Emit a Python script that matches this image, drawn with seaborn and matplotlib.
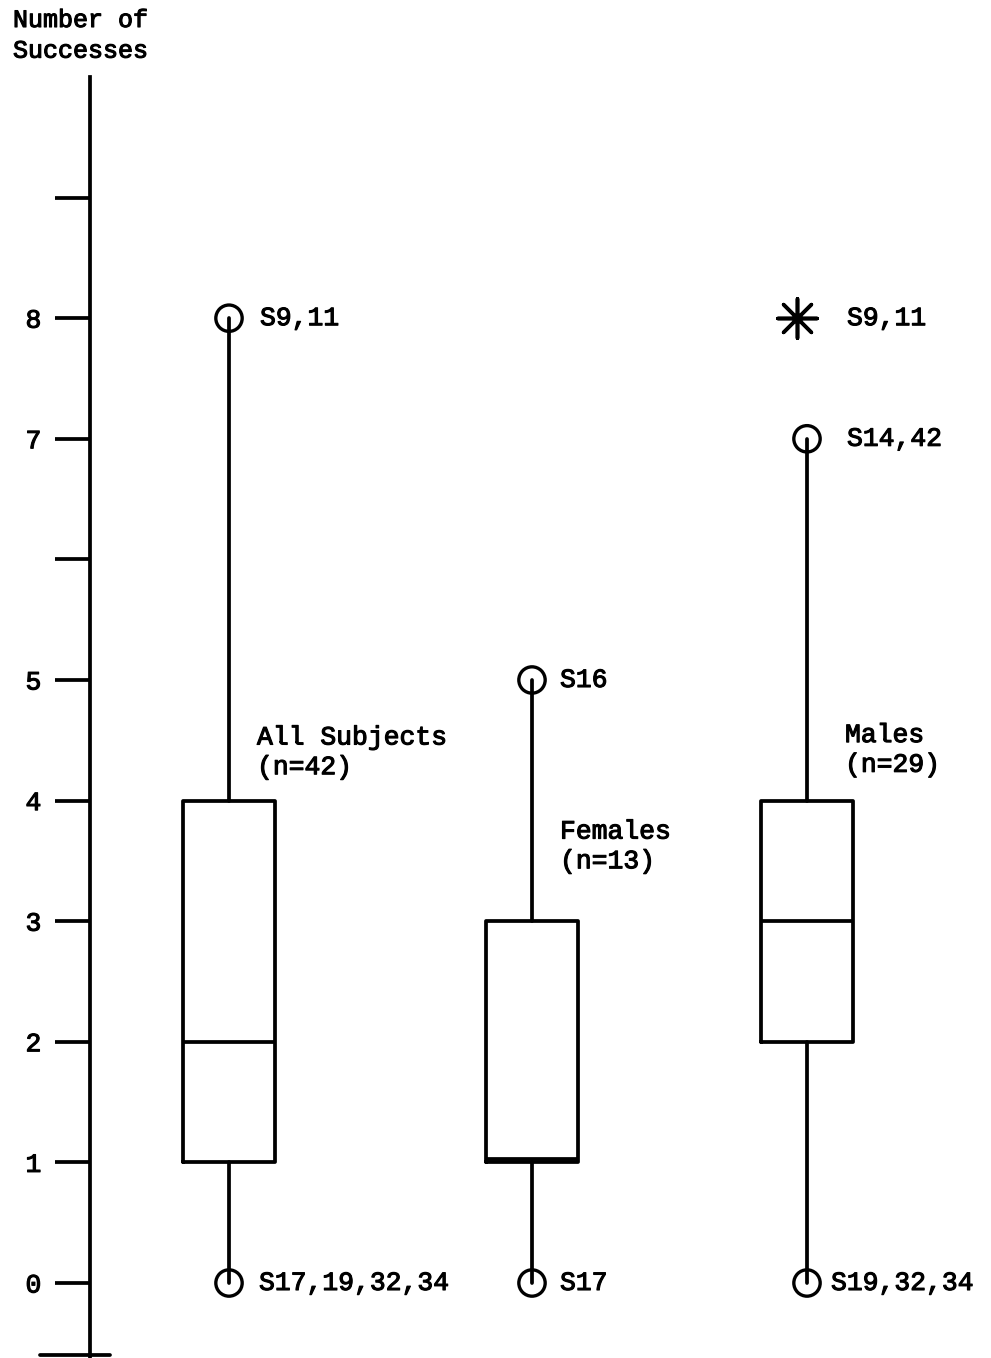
import matplotlib
matplotlib.use("Agg")
import matplotlib.pyplot as plt
import matplotlib.patheffects as pe
import seaborn as sns
import pandas as pd
from matplotlib.lines import Line2D

# ---- data ----
groups = ["All Subjects", "Females", "Males"]
n_sizes = [42, 13, 29]
q1 = [1, 1, 2]
medians = [2, 1.03, 3]
q3 = [4, 3, 4]
whisk_lo = [0, 0, 0]
whisk_hi = [8, 5, 7]

circle_group = ["All Subjects", "All Subjects", "Females", "Females", "Males", "Males"]
circle_value = [8, 0, 5, 0, 7, 0]
circle_label = ["S9,11", "S17,19,32,34", "S16", "S17", "S14,42", "S19,32,34"]

star_group = ["Males"]
star_value = [8]
star_label = ["S9,11"]

y_ticks = [0, 1, 2, 3, 4, 5, 6, 7, 8, 9]
y_ticklabels = ["0", "1", "2", "3", "4", "5", "", "7", "8", ""]

# ---- layout (pixel-like x coordinates) ----
positions = {"All Subjects": 229, "Females": 532, "Males": 807}
label_dx = [31, 30, 28, 28, 40, 24]
group_label_xy = {"All Subjects": (257, 4.40), "Females": (560, 3.62), "Males": (845, 4.42)}

sns.set_theme(style="white")
FONT = ["Liberation Mono", "DejaVu Sans Mono"]
plt.rcParams["font.family"] = FONT

W, H = 991, 1358
fig = plt.figure(figsize=(W / 100, H / 100), dpi=100)
fig.patch.set_facecolor("white")
x0 = 90
ax = fig.add_axes([x0 / W, 0, 1 - x0 / W, 1])
ax.set_facecolor("white")
ax.set_xlim(x0, W)
ax.set_ylim((1283 - 1358) / 120.6, 1283 / 120.6)

lw = 2.7
stats = []
for g, a, m, b, lo, hi in zip(groups, q1, medians, q3, whisk_lo, whisk_hi):
    stats.append(dict(label=g, q1=a, med=m, q3=b, whislo=lo, whishi=hi, fliers=[]))
ax.bxp(stats, positions=[positions[g] for g in groups], widths=92,
       showcaps=False, showfliers=False, manage_ticks=False,
       boxprops=dict(color="black", linewidth=lw),
       whiskerprops=dict(color="black", linewidth=lw),
       medianprops=dict(color="black", linewidth=lw))

cdf = pd.DataFrame({"x": [positions[g] for g in circle_group], "y": circle_value, "label": circle_label})
sns.scatterplot(data=cdf, x="x", y="y", ax=ax, s=360, marker="o",
                facecolor="none", edgecolor="black", linewidth=2.4, zorder=5)
sdf = pd.DataFrame({"x": [positions[g] - 10 for g in star_group], "y": star_value, "label": star_label})
sns.scatterplot(data=sdf, x="x", y="y", ax=ax, s=800, marker=(8, 2, 0),
                color="black", linewidth=2.6, zorder=5)

fs = 19
heavy = [pe.withStroke(linewidth=0.8, foreground="black")]
for dx, (_, r) in zip(label_dx, cdf.iterrows()):
    ax.text(r.x + dx, r.y, r.label, fontsize=fs, va="center", ha="left", color="black",
            path_effects=heavy)
for _, r in sdf.iterrows():
    ax.text(r.x + 50, r.y, r.label, fontsize=fs, va="center", ha="left", color="black",
            path_effects=heavy)

for g, n in zip(groups, n_sizes):
    gx, gy = group_label_xy[g]
    ax.text(gx, gy, f"{g}\n(n={n})", fontsize=fs, va="center", ha="left",
            linespacing=1.3, color="black", path_effects=heavy)

# axis styling
for s in ["top", "right", "bottom"]:
    ax.spines[s].set_visible(False)
ax.spines["left"].set_color("black")
ax.spines["left"].set_linewidth(lw)
ax.spines["left"].set_bounds(-1, 10)
ax.set_xticks([])
ax.set_yticks(y_ticks)
ax.set_yticklabels(y_ticklabels, fontsize=fs, family=FONT)
for t in ax.get_yticklabels():
    t.set_path_effects(heavy)
ax.tick_params(axis="y", direction="out", length=25, width=lw, pad=10, colors="black", left=True)
ax.set_xlabel("")
ax.set_ylabel("")
ax.grid(False)

fig.text(13 / W, 1 - 8 / H, "Number of\nSuccesses", fontsize=18, va="top", ha="left",
         linespacing=1.35, color="black", path_effects=heavy)
fig.add_artist(Line2D([40 / W, 110 / W], [3 / H, 3 / H], color="black", linewidth=lw))

fig.savefig("out.png", dpi=100, facecolor="white")
